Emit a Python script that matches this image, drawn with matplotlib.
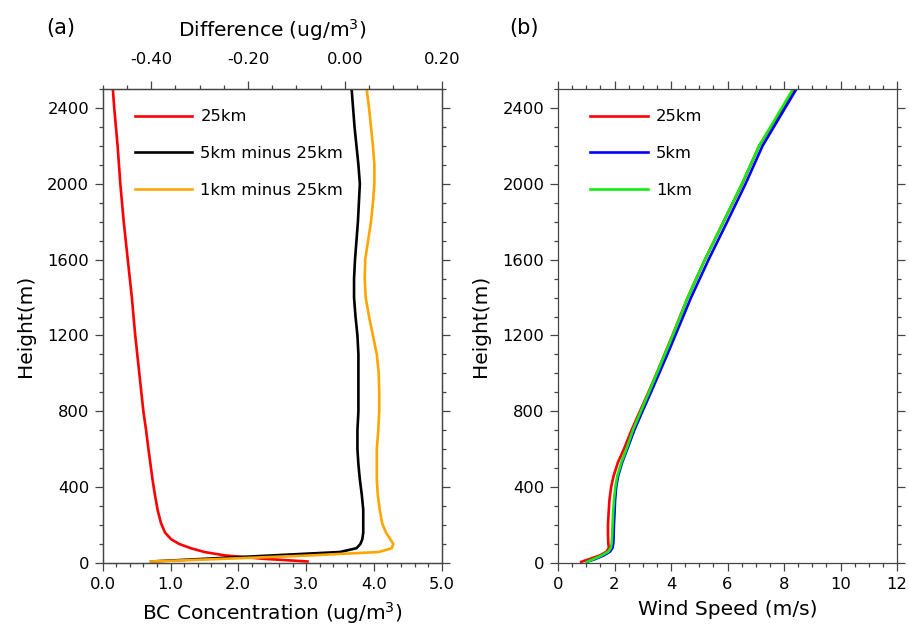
import matplotlib
matplotlib.use("Agg")
import matplotlib.pyplot as plt
from matplotlib.ticker import MultipleLocator, FormatStrFormatter

# ---------------- data ----------------
# Panel (a): heights (m)
lev_bc = [8, 22, 40, 58, 78, 100, 125, 160, 210, 280, 360, 440, 520, 600, 700,
          800, 900, 1000, 1100, 1200, 1300, 1400, 1500, 1600, 1700, 1800, 1900,
          2000, 2100, 2200, 2300, 2400, 2500]
bc_25km = [3.02, 2.38, 1.80, 1.50, 1.30, 1.13, 1.01, 0.92, 0.86, 0.81, 0.77, 0.735,
           0.705, 0.675, 0.64, 0.60, 0.57, 0.54, 0.51, 0.48, 0.455, 0.43, 0.40, 0.37,
           0.34, 0.31, 0.285, 0.26, 0.24, 0.22, 0.195, 0.17, 0.15]
diff_5km = [-0.40, -0.29, -0.15, -0.01, 0.024, 0.032, 0.036, 0.038, 0.038, 0.038,
            0.035, 0.031, 0.028, 0.026, 0.026, 0.028, 0.028, 0.028, 0.028, 0.026,
            0.022, 0.019, 0.019, 0.021, 0.024, 0.027, 0.029, 0.031, 0.028, 0.024,
            0.020, 0.017, 0.014]
diff_1km = [-0.40, -0.25, -0.07, 0.070, 0.097, 0.100, 0.094, 0.085, 0.077, 0.072,
            0.068, 0.066, 0.066, 0.066, 0.069, 0.071, 0.071, 0.070, 0.066, 0.058,
            0.050, 0.043, 0.041, 0.042, 0.048, 0.054, 0.058, 0.061, 0.061, 0.058,
            0.054, 0.050, 0.045]

# Panel (b): wind speed profiles
lev_ws = [6, 20, 40, 60, 80, 105, 150, 200, 260, 330, 400, 460, 530, 600, 700,
          800, 900, 1000, 1100, 1200, 1300, 1400, 1600, 1800, 2000, 2200, 2350, 2500]
ws_25km = [0.82, 1.10, 1.48, 1.72, 1.80, 1.78, 1.77, 1.77, 1.79, 1.82, 1.88, 1.97,
           2.12, 2.33, 2.60, 2.90, 3.20, 3.49, 3.77, 4.05, 4.32, 4.59, 5.20, 5.86,
           6.52, 7.12, 7.75, 8.38]
ws_5km = [1.02, 1.30, 1.62, 1.84, 1.93, 1.96, 1.97, 1.98, 2.00, 2.02, 2.06, 2.13,
          2.27, 2.45, 2.70, 2.99, 3.29, 3.58, 3.87, 4.15, 4.43, 4.71, 5.33, 5.99,
          6.64, 7.24, 7.84, 8.44]
ws_1km = [1.02, 1.25, 1.55, 1.78, 1.87, 1.90, 1.92, 1.93, 1.95, 1.98, 2.03, 2.10,
          2.24, 2.42, 2.65, 2.93, 3.22, 3.50, 3.78, 4.06, 4.33, 4.59, 5.20, 5.86,
          6.51, 7.12, 7.72, 8.32]

labels_a = ["25km", "5km minus 25km", "1km minus 25km"]
labels_b = ["25km", "5km", "1km"]

# ---------------- style ----------------
plt.rcParams['font.family'] = ['DejaVu Sans']
W, H = 909, 629
fig = plt.figure(figsize=(W / 100, H / 100), dpi=100)

SPC = '#444444'
LW = 1.9
TICK_FS = 11.8
LAB_FS = 14.5


def px_axes(x0, x1, y0, y1):
    return fig.add_axes([x0 / W, (H - y1) / H, (x1 - x0) / W, (y1 - y0) / H])


def style(ax):
    for s in ax.spines.values():
        s.set_color(SPC)
        s.set_linewidth(0.9)
    ax.tick_params(which='both', direction='out', color=SPC, width=0.9,
                   labelsize=TICK_FS, pad=4.0)
    ax.tick_params(which='major', length=5.8)
    ax.tick_params(which='minor', length=3.2)


LEG_KW = dict(loc='upper left', bbox_to_anchor=(0.095, 0.957), frameon=False,
              fontsize=TICK_FS, handlelength=3.5, handletextpad=0.5,
              labelspacing=1.33, borderpad=0, borderaxespad=0)

# ---------------- panel (a) ----------------
ax1 = px_axes(102.7, 441.7, 89, 563)
style(ax1)
l1, = ax1.plot(bc_25km, lev_bc, color='#FF0000', lw=LW)
ax1.set_xlim(0, 5)
ax1.set_ylim(0, 2500)
ax1.xaxis.set_major_locator(MultipleLocator(1.0))
ax1.xaxis.set_minor_locator(MultipleLocator(0.2))
ax1.xaxis.set_major_formatter(FormatStrFormatter('%.1f'))
ax1.yaxis.set_major_locator(MultipleLocator(400))
ax1.yaxis.set_minor_locator(MultipleLocator(100))
ax1.tick_params(axis='y', which='both', left=True, right=True)
ax1.tick_params(axis='x', which='both', top=False, bottom=True)
ax1.set_xlabel('BC Concentration (ug/m$^3$)', fontsize=LAB_FS, labelpad=6)
ax1.set_ylabel('Height(m)', fontsize=LAB_FS, labelpad=9)

ax2 = ax1.twiny()
style(ax2)
l2, = ax2.plot(diff_5km, lev_bc, color='black', lw=LW)
l3, = ax2.plot(diff_1km, lev_bc, color='#FFA500', lw=LW)
ax2.set_xlim(-0.5, 0.2)
ax2.xaxis.set_major_locator(MultipleLocator(0.2))
ax2.xaxis.set_minor_locator(MultipleLocator(0.05))
ax2.xaxis.set_major_formatter(FormatStrFormatter('%.2f'))
ax2.tick_params(axis='x', which='both', top=True, bottom=False, pad=9.8)
ax2.set_xlabel('Difference (ug/m$^3$)', fontsize=LAB_FS, labelpad=11.5)

leg = ax2.legend([l1, l2, l3], labels_a, **LEG_KW)
for ln in leg.get_lines():
    ln.set_linewidth(LW)

# ---------------- panel (b) ----------------
ax3 = px_axes(558, 897, 89, 563)
style(ax3)
m1, = ax3.plot(ws_25km, lev_ws, color='#FF0000', lw=LW)
m2, = ax3.plot(ws_5km, lev_ws, color='#0000FF', lw=LW)
m3, = ax3.plot(ws_1km, lev_ws, color='#11EE11', lw=LW)
ax3.set_xlim(0, 12)
ax3.set_ylim(0, 2500)
ax3.xaxis.set_major_locator(MultipleLocator(2))
ax3.xaxis.set_minor_locator(MultipleLocator(0.5))
ax3.yaxis.set_major_locator(MultipleLocator(400))
ax3.yaxis.set_minor_locator(MultipleLocator(100))
ax3.tick_params(which='both', left=True, right=True, top=True, bottom=True)
ax3.set_xlabel('Wind Speed (m/s)', fontsize=LAB_FS, labelpad=6)
ax3.set_ylabel('Height(m)', fontsize=LAB_FS, labelpad=9)
leg2 = ax3.legend([m1, m2, m3], labels_b, **LEG_KW)
for ln in leg2.get_lines():
    ln.set_linewidth(LW)

# panel tags
fig.text(61 / W, 1 - 28 / H, '(a)', fontsize=15, ha='center', va='center')
fig.text(524 / W, 1 - 28 / H, '(b)', fontsize=15, ha='center', va='center')

fig.savefig('out.png', dpi=100)
